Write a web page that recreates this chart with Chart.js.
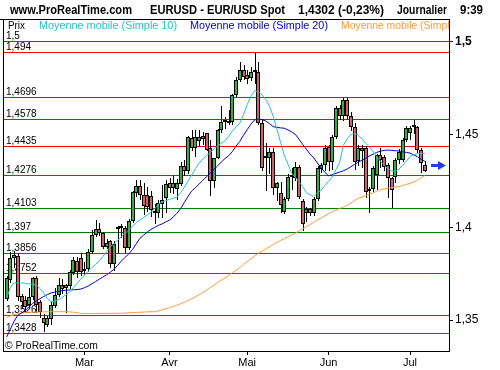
<!DOCTYPE html>
<html>
<head>
<meta charset="utf-8">
<script src="https://cdn.jsdelivr.net/npm/chart.js@4.4.0/dist/chart.umd.min.js"></script>
<style>
  body { margin: 0; background: #fff; }
  #wrap { width: 500px; height: 370px; }
</style>
</head>
<body>
<div id="wrap"><canvas id="chart" width="500" height="370"></canvas></div>
<script>
// ===========================
// Data (EUR/USD daily)
// ===========================
const openVals = [
  1.3613, 1.3716, 1.3833, 1.3845, 1.3630, 1.3610, 1.3580, 1.3625, 1.3727, 1.3595,
  1.3512, 1.3475, 1.3505, 1.3575, 1.3635, 1.3690, 1.3690, 1.3685, 1.3755, 1.3820,
  1.3835, 1.3765, 1.3775, 1.3868, 1.3960, 1.3990, 1.3970, 1.3895, 1.3925, 1.3800,
  1.3990, 1.3994, 1.3995, 1.3890, 1.4035, 1.4185, 1.4222, 1.4173, 1.4172, 1.4170,
  1.4085, 1.4078, 1.4146, 1.4155, 1.4236, 1.4210, 1.4208, 1.4235, 1.4330, 1.4300,
  1.4478, 1.4425, 1.4465, 1.4490, 1.4505, 1.4425, 1.4250, 1.4370, 1.4522, 1.4565,
  1.4570, 1.4565, 1.4712, 1.4793, 1.4847, 1.4822, 1.4802, 1.4838, 1.4834, 1.4560,
  1.4372, 1.4371, 1.4405, 1.4212, 1.4186, 1.4080, 1.4150, 1.4272, 1.4265, 1.4326,
  1.4143, 1.4075, 1.4098, 1.4075, 1.4150, 1.4315, 1.4333, 1.4434, 1.4353, 1.4488,
  1.4640, 1.4600, 1.4685, 1.4600, 1.4541, 1.4355, 1.4410, 1.4425, 1.4195, 1.4204,
  1.4281, 1.4389, 1.4380, 1.4335, 1.4263, 1.4272, 1.4362, 1.4362, 1.4470, 1.4505,
  1.4540, 1.4541, 1.4416, 1.4335
];
const highVals = [
  1.3735, 1.3868, 1.3870, 1.3860, 1.3640, 1.3630, 1.3670, 1.3733, 1.3735, 1.3610,
  1.3535, 1.3520, 1.3598, 1.3670, 1.3725, 1.3720, 1.3695, 1.3770, 1.3838, 1.3840,
  1.3860, 1.3810, 1.3885, 1.3985, 1.4040, 1.4025, 1.3975, 1.3935, 1.3930, 1.3925,
  1.4005, 1.4015, 1.4005, 1.4045, 1.4195, 1.4255, 1.4255, 1.4240, 1.4215, 1.4195,
  1.4125, 1.4148, 1.4226, 1.4255, 1.4265, 1.4280, 1.4260, 1.4353, 1.4360, 1.4492,
  1.4525, 1.4525, 1.4525, 1.4515, 1.4508, 1.4467, 1.4375, 1.4527, 1.4650, 1.4595,
  1.4630, 1.4715, 1.4808, 1.4892, 1.4875, 1.4848, 1.4862, 1.4940, 1.4890, 1.4580,
  1.4452, 1.4427, 1.4425, 1.4245, 1.4245, 1.4165, 1.4285, 1.4320, 1.4350, 1.4335,
  1.4150, 1.4110, 1.4105, 1.4160, 1.4330, 1.4345, 1.4440, 1.4440, 1.4495, 1.4650,
  1.4660, 1.4696, 1.4696, 1.4620, 1.4560, 1.4440, 1.4440, 1.4435, 1.4215, 1.4330,
  1.4395, 1.4425, 1.4390, 1.4345, 1.4270, 1.4370, 1.4420, 1.4480, 1.4545, 1.4545,
  1.4578, 1.4545, 1.4425, 1.4355
];
const lowVals = [
  1.3600, 1.3700, 1.3780, 1.3600, 1.3565, 1.3540, 1.3565, 1.3610, 1.3540, 1.3510,
  1.3436, 1.3460, 1.3475, 1.3565, 1.3625, 1.3640, 1.3540, 1.3665, 1.3740, 1.3728,
  1.3735, 1.3745, 1.3760, 1.3855, 1.3945, 1.3950, 1.3885, 1.3880, 1.3780, 1.3765,
  1.3860, 1.3940, 1.3860, 1.3875, 1.4020, 1.4160, 1.4145, 1.4065, 1.4080, 1.4055,
  1.4015, 1.4050, 1.4048, 1.4075, 1.4185, 1.4180, 1.4145, 1.4220, 1.4275, 1.4285,
  1.4410, 1.4380, 1.4430, 1.4445, 1.4410, 1.4166, 1.4210, 1.4365, 1.4505, 1.4528,
  1.4548, 1.4553, 1.4700, 1.4780, 1.4795, 1.4773, 1.4790, 1.4770, 1.4548, 1.4305,
  1.4197, 1.4285, 1.4173, 1.4140, 1.4078, 1.4070, 1.4140, 1.4200, 1.4250, 1.4150,
  1.3979, 1.4030, 1.4060, 1.4060, 1.4140, 1.4290, 1.4300, 1.4300, 1.4310, 1.4475,
  1.4575, 1.4570, 1.4575, 1.4520, 1.4310, 1.4330, 1.4320, 1.4156, 1.4075, 1.4190,
  1.4200, 1.4320, 1.4300, 1.4156, 1.4102, 1.4240, 1.4340, 1.4350, 1.4460, 1.4470,
  1.4500, 1.4400, 1.4290, 1.4295
];
const closeVals = [
  1.3725, 1.3833, 1.3850, 1.3625, 1.3595, 1.3570, 1.3625, 1.3726, 1.3580, 1.3545,
  1.3485, 1.3510, 1.3580, 1.3635, 1.3690, 1.3665, 1.3675, 1.3760, 1.3825, 1.3757,
  1.3757, 1.3775, 1.3868, 1.3960, 1.3990, 1.3968, 1.3895, 1.3915, 1.3800, 1.3910,
  1.3994, 1.3998, 1.3887, 1.4035, 1.4190, 1.4222, 1.4175, 1.4113, 1.4110, 1.4095,
  1.4077, 1.4128, 1.4123, 1.4235, 1.4210, 1.4240, 1.4236, 1.4330, 1.4300, 1.4487,
  1.4425, 1.4487, 1.4488, 1.4475, 1.4418, 1.4247, 1.4370, 1.4523, 1.4568, 1.4570,
  1.4562, 1.4710, 1.4793, 1.4847, 1.4810, 1.4796, 1.4838, 1.4835, 1.4560, 1.4318,
  1.4378, 1.4405, 1.4210, 1.4236, 1.4120, 1.4150, 1.4272, 1.4268, 1.4326, 1.4165,
  1.4018, 1.4098, 1.4075, 1.4150, 1.4320, 1.4333, 1.4425, 1.4353, 1.4488, 1.4640,
  1.4600, 1.4685, 1.4600, 1.4541, 1.4353, 1.4425, 1.4425, 1.4191, 1.4205, 1.4317,
  1.4389, 1.4362, 1.4326, 1.4263, 1.4200, 1.4362, 1.4407, 1.4470, 1.4533, 1.4535,
  1.4543, 1.4416, 1.4344, 1.4302
];

// moving averages as drawn on the picture
const sma10 = [
  1.3618, 1.3677, 1.3700, 1.3700, 1.3700, 1.3698, 1.3695, 1.3692, 1.3689, 1.3670,
  1.3645, 1.3615, 1.3599, 1.3602, 1.3610, 1.3622, 1.3636, 1.3651, 1.3675, 1.3697,
  1.3720, 1.3742, 1.3762, 1.3781, 1.3800, 1.3818, 1.3843, 1.3868, 1.3895, 1.3912,
  1.3930, 1.3950, 1.3967, 1.3985, 1.4005, 1.4025, 1.4039, 1.4052, 1.4066, 1.4080,
  1.4100, 1.4125, 1.4135, 1.4143, 1.4150, 1.4156, 1.4162, 1.4185, 1.4215, 1.4248,
  1.4281, 1.4315, 1.4345, 1.4368, 1.4386, 1.4403, 1.4420, 1.4438, 1.4452, 1.4465,
  1.4490, 1.4518, 1.4540, 1.4560, 1.4605, 1.4660, 1.4705, 1.4735, 1.4730, 1.4712,
  1.4688, 1.4652, 1.4598, 1.4530, 1.4458, 1.4388, 1.4340, 1.4292, 1.4268, 1.4245,
  1.4218, 1.4186, 1.4175, 1.4166, 1.4185, 1.4200, 1.4225, 1.4247, 1.4270, 1.4312,
  1.4350, 1.4440, 1.4475, 1.4500, 1.4505, 1.4497, 1.4475, 1.4452, 1.4433, 1.4408,
  1.4380, 1.4355, 1.4336, 1.4315, 1.4303, 1.4300, 1.4312, 1.4333, 1.4355, 1.4380,
  1.4391, 1.4395, 1.4398, 1.4398
];
const sma20 = [
  1.3409, 1.3451, 1.3493, 1.3526, 1.3538, 1.3551, 1.3571, 1.3590, 1.3603, 1.3615,
  1.3627, 1.3637, 1.3646, 1.3650, 1.3654, 1.3658, 1.3661, 1.3662, 1.3663, 1.3664,
  1.3667, 1.3674, 1.3683, 1.3695, 1.3707, 1.3720, 1.3732, 1.3743, 1.3758, 1.3773,
  1.3795, 1.3818, 1.3838, 1.3856, 1.3880, 1.3910, 1.3940, 1.3957, 1.3974, 1.3988,
  1.3999, 1.4010, 1.4018, 1.4028, 1.4038, 1.4055, 1.4075, 1.4100, 1.4133, 1.4166,
  1.4195, 1.4213, 1.4232, 1.4252, 1.4272, 1.4292, 1.4311, 1.4330, 1.4351, 1.4370,
  1.4385, 1.4408, 1.4437, 1.4462, 1.4495, 1.4525, 1.4555, 1.4578, 1.4582, 1.4579,
  1.4572, 1.4558, 1.4542, 1.4537, 1.4535, 1.4533, 1.4524, 1.4514, 1.4500, 1.4474,
  1.4446, 1.4420, 1.4393, 1.4373, 1.4345, 1.4319, 1.4295, 1.4277, 1.4283, 1.4290,
  1.4297, 1.4304, 1.4313, 1.4325, 1.4338, 1.4350, 1.4360, 1.4372, 1.4383, 1.4393,
  1.4403, 1.4409, 1.4414, 1.4415, 1.4414, 1.4412, 1.4410, 1.4406, 1.4403, 1.4399,
  1.4390, 1.4380, 1.4366, 1.4355
];
const smaLong = [
  1.3513, 1.3522, 1.3529, 1.3533, 1.3537, 1.3541, 1.3542, 1.3543, 1.3543, 1.3543,
  1.3544, 1.3545, 1.3545, 1.3545, 1.3545, 1.3545, 1.3545, 1.3544, 1.3542, 1.3539,
  1.3536, 1.3535, 1.3535, 1.3535, 1.3535, 1.3536, 1.3536, 1.3536, 1.3536, 1.3536,
  1.3536, 1.3537, 1.3538, 1.3539, 1.3540, 1.3541, 1.3542, 1.3543, 1.3544, 1.3545,
  1.3545, 1.3549, 1.3555, 1.3561, 1.3566, 1.3573, 1.3580, 1.3588, 1.3596, 1.3606,
  1.3615, 1.3625, 1.3636, 1.3648, 1.3662, 1.3675, 1.3688, 1.3702, 1.3715, 1.3727,
  1.3740, 1.3755, 1.3768, 1.3782, 1.3800, 1.3815, 1.3830, 1.3845, 1.3859, 1.3870,
  1.3882, 1.3894, 1.3906, 1.3918, 1.3928, 1.3938, 1.3948, 1.3958, 1.3968, 1.3980,
  1.3992, 1.4002, 1.4014, 1.4026, 1.4040, 1.4050, 1.4061, 1.4072, 1.4083, 1.4092,
  1.4101, 1.4109, 1.4118, 1.4130, 1.4143, 1.4156, 1.4162, 1.4170, 1.4178, 1.4185,
  1.4193, 1.4202, 1.4206, 1.4210, 1.4213, 1.4216, 1.4219, 1.4224, 1.4230, 1.4236,
  1.4244, 1.4253, 1.4265, 1.4278
];

const resistLevels = [1.5, 1.494, 1.4696, 1.4578, 1.4435];
const supportLevels = [1.4276, 1.4103, 1.397, 1.3856, 1.3752, 1.3526, 1.3428];

const monthLabels = ['Mar', 'Avr', 'Mai', 'Jun', 'Jul'];
const monthIndex = [21, 44, 65, 87, 109];   // first trading day of each month
const yTickVals = [1.35, 1.4, 1.45, 1.5];

const titleParts = ['www.ProRealTime.com', 'EURUSD - EUR/USD Spot', '1,4302 (-0,23%)', 'Journalier', '9:39'];
const legendLabels = ['Prix', 'Moyenne mobile (Simple 10)', 'Moyenne mobile (Simple 20)', 'Moyenne mobile (Simple 100)'];
const copyrightText = '\u00A9 ProRealTime.com';

// ===========================
// Helpers
// ===========================
const FONT = "'Liberation Sans', Arial, sans-serif";
const fmt = v => String(v).replace('.', ',');
const days = closeVals.map((_, i) => i);

const COL_UP = '#36b036';
const COL_DOWN = '#cf6363';
const COL_MA10 = '#22c4c4';
const COL_MA20 = '#0000cc';
const COL_MALONG = '#ff9a3c';
const BODY_SET = 3, WICK_SET = 4;

// ===========================
// Extra drawing: levels, legend, title, arrow
// ===========================
const overlay = {
  id: 'overlay',
  beforeDatasetsDraw(chart) {
    const { ctx, chartArea: a, scales: { y } } = chart;

    // snap candle parts to whole pixels so they stay crisp
    [BODY_SET, WICK_SET].forEach(di => {
      chart.getDatasetMeta(di).data.forEach(el => {
        const cx = Math.round(el.x);
        el.x = di === WICK_SET ? cx + 0.5 : cx;
        let top = Math.round(el.y), bot = Math.round(el.base);
        if (di === BODY_SET && Math.abs(bot - top) < 2) bot = top + 2;
        el.y = top;
        el.base = bot;
      });
    });

    ctx.save();
    ctx.lineWidth = 1;
    ctx.font = '10px ' + FONT;
    ctx.textBaseline = 'alphabetic';
    const level = (v, color) => {
      const py = Math.floor(y.getPixelForValue(v)) + 0.5;
      ctx.strokeStyle = color;
      ctx.beginPath();
      ctx.moveTo(a.left, py);
      ctx.lineTo(a.right, py);
      ctx.stroke();
      ctx.fillStyle = '#000';
      ctx.fillText(fmt(v), a.left + 3, py - 2.5);
    };
    resistLevels.forEach(v => level(v, '#ff0000'));
    supportLevels.forEach(v => level(v, '#008000'));
    ctx.restore();
  },
  afterDatasetsDraw(chart) {
    const { ctx, chartArea: a, scales: { y } } = chart;
    ctx.save();

    // frame (top + left)
    ctx.strokeStyle = '#000';
    ctx.lineWidth = 1;
    ctx.beginPath();
    ctx.moveTo(0, a.top + 0.5);
    ctx.lineTo(a.right, a.top + 0.5);
    ctx.moveTo(a.left + 0.5, a.top);
    ctx.lineTo(a.left + 0.5, a.bottom);
    ctx.stroke();

    // legend row inside the box
    ctx.beginPath();
    ctx.rect(a.left, a.top, a.right - a.left, a.bottom - a.top);
    ctx.clip();
    ctx.font = '11px ' + FONT;
    ctx.textBaseline = 'alphabetic';
    const legX = [8, 39, 190, 341];
    const legCol = ['#000', COL_MA10, COL_MA20, COL_MALONG];
    legendLabels.forEach((t, i) => {
      ctx.fillStyle = legCol[i];
      ctx.fillText(t, legX[i], 29, i === 0 ? 17 : 138);
    });

    // copyright
    ctx.fillStyle = '#000';
    ctx.fillText(copyrightText, 5, 349, 93);
    ctx.restore();

    // last price arrow
    ctx.save();
    const yc = Math.round(y.getPixelForValue(openVals[openVals.length - 1]));
    ctx.fillStyle = '#1f3cf5';
    ctx.fillRect(431, yc - 1, 9, 3);
    ctx.beginPath();
    ctx.moveTo(438, yc - 4);
    ctx.lineTo(446, yc + 0.5);
    ctx.lineTo(438, yc + 5);
    ctx.closePath();
    ctx.fill();
    ctx.restore();
  },
  afterDraw(chart) {
    const { ctx } = chart;
    ctx.save();
    ctx.font = 'bold 12px ' + FONT;
    ctx.fillStyle = '#000';
    ctx.textBaseline = 'alphabetic';
    const tx = [10, 150, 298, 397, 460];
    const tw = [122, 135, 86, 50, 23];
    titleParts.forEach((t, i) => ctx.fillText(t, tx[i], 14, tw[i]));
    ctx.restore();
  }
};

// ===========================
// Chart
// ===========================
const ctx = document.getElementById('chart').getContext('2d');
new Chart(ctx, {
  type: 'bar',
  data: {
    datasets: [
      {
        type: 'line', label: legendLabels[1],
        data: days.map(i => ({ x: i, y: sma10[i] })),
        borderColor: COL_MA10, borderWidth: 1, pointRadius: 0, tension: 0, order: 0
      },
      {
        type: 'line', label: legendLabels[2],
        data: days.map(i => ({ x: i, y: sma20[i] })),
        borderColor: COL_MA20, borderWidth: 1, pointRadius: 0, tension: 0, order: 1
      },
      {
        type: 'line', label: legendLabels[3],
        data: days.map(i => ({ x: i, y: smaLong[i] })),
        borderColor: COL_MALONG, borderWidth: 1, pointRadius: 0, tension: 0, order: 2
      },
      {
        label: 'bodies',
        data: days.map(i => ({ x: i, y: [openVals[i], closeVals[i]] })),
        backgroundColor: c => closeVals[c.dataIndex] >= openVals[c.dataIndex] ? COL_UP : COL_DOWN,
        borderColor: '#000', borderWidth: 1, borderSkipped: false,
        barThickness: 4, minBarLength: 2, grouped: false, inflateAmount: 0, order: 3
      },
      {
        label: 'wicks',
        data: days.map(i => ({ x: i, y: [lowVals[i], highVals[i]] })),
        backgroundColor: '#000', borderWidth: 0,
        barThickness: 1, grouped: false, inflateAmount: 0, order: 4
      }
    ]
  },
  options: {
    responsive: false,
    animation: false,
    devicePixelRatio: 1,
    events: [],
    layout: { padding: { top: 19, left: 3, right: 0, bottom: 0 } },
    plugins: { legend: { display: false }, tooltip: { enabled: false }, title: { display: false } },
    scales: {
      x: {
        type: 'linear', min: -1, max: 119.54, offset: false,
        grid: { display: true, drawOnChartArea: false, drawTicks: true, tickLength: 4, color: '#000', offset: false },
        border: { display: true, color: '#000', width: 1 },
        ticks: {
          autoSkip: false, maxRotation: 0, padding: 1, color: '#000',
          font: { family: FONT, size: 11 },
          callback: v => { const k = monthIndex.indexOf(v); return k >= 0 ? monthLabels[k] : ''; }
        },
        afterBuildTicks: s => { s.ticks = monthIndex.map(v => ({ value: v })); },
        afterFit: s => { s.height = 19; }
      },
      y: {
        position: 'right', min: 1.33333, max: 1.51212,
        grid: { display: true, drawOnChartArea: false, drawTicks: true, tickLength: 4, color: '#000' },
        border: { display: true, color: '#000', width: 1 },
        ticks: {
          autoSkip: false, padding: 2, color: '#000',
          font: c => ({ family: FONT, size: 12, weight: c.tick && c.tick.value === 1.5 ? 'bold' : 'normal' }),
          callback: v => fmt(v)
        },
        afterBuildTicks: s => { s.ticks = yTickVals.map(v => ({ value: v })); },
        afterFit: s => { s.width = 51; }
      }
    }
  },
  plugins: [overlay]
});
</script>
</body>
</html>
